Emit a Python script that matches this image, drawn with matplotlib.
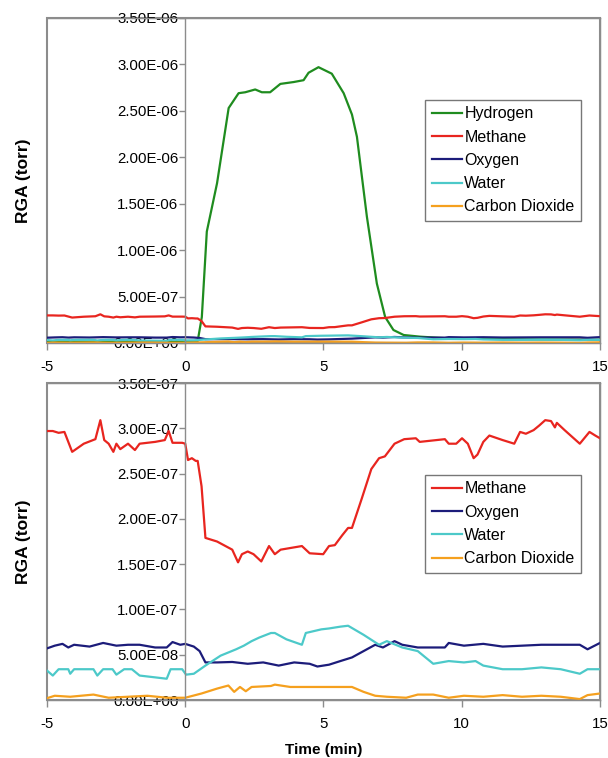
import numpy as np
import matplotlib
matplotlib.use('Agg')
import matplotlib.pyplot as plt
from matplotlib.ticker import FuncFormatter

plt.rcParams['font.family'] = ['Liberation Sans', 'DejaVu Sans']
plt.rcParams['axes.unicode_minus'] = False

# Hydrogen (torr)
t_h2 = [-5, -2, 0, 0.45, 0.6, 0.78, 1.15, 1.57, 1.93, 2.17, 2.53, 2.77, 3.07, 3.44, 3.92,
        4.28, 4.46, 4.82, 5.3, 5.73, 6.03, 6.21, 6.57, 6.93, 7.23, 7.53, 7.9, 8.5, 9.5, 12, 15]
h2 = [0.015, 0.015, 0.015, 0.02, 0.28, 1.2, 1.72, 2.53, 2.69, 2.70, 2.73, 2.70, 2.70, 2.79, 2.81,
      2.83, 2.91, 2.97, 2.90, 2.69, 2.46, 2.22, 1.36, 0.64, 0.28, 0.14, 0.086, 0.068, 0.05, 0.04, 0.035]

# Methane (1e-7 torr)
t_ch4 = [-5, -4.79, -4.58, -4.37, -4.09, -3.67, -3.25, -3.07, -2.93, -2.77, -2.6, -2.49, -2.35,
         -2.07, -1.82, -1.65, -1.09, -0.74, -0.6, -0.46, -0.11, 0, 0.1, 0.24, 0.38, 0.45, 0.59,
         0.73, 1.15, 1.7, 1.91, 2.05, 2.26, 2.47, 2.75, 3.03, 3.24, 3.45, 4.22, 4.5, 4.99, 5.2,
         5.41, 5.68, 5.89, 6.03, 6.38, 6.73, 7.01, 7.22, 7.57, 7.92, 8.34, 8.48, 9.39, 9.53,
         9.8, 10.01, 10.22, 10.43, 10.57, 10.78, 11.0, 11.48, 11.9, 12.11, 12.32, 12.6, 12.8,
         13.02, 13.23, 13.37, 13.44, 13.72, 14.27, 14.62, 14.83, 15]
ch4 = [2.97, 2.97, 2.95, 2.96, 2.74, 2.83, 2.88, 3.09, 2.87, 2.83, 2.74, 2.83, 2.77,
       2.83, 2.76, 2.83, 2.85, 2.87, 2.97, 2.84, 2.84, 2.83, 2.65, 2.67, 2.64, 2.64, 2.36,
       1.79, 1.75, 1.66, 1.52, 1.61, 1.64, 1.61, 1.53, 1.70, 1.61, 1.66, 1.70, 1.62, 1.61, 1.70,
       1.71, 1.82, 1.90, 1.90, 2.22, 2.55, 2.67, 2.69, 2.83, 2.88, 2.89, 2.85, 2.88, 2.83,
       2.83, 2.89, 2.83, 2.67, 2.71, 2.85, 2.92, 2.87, 2.83, 2.96, 2.94, 2.98, 3.03,
       3.09, 3.08, 3.01, 3.06, 2.98, 2.83, 2.96, 2.92, 2.89]

# Oxygen (1e-7 torr)
t_o2 = [-5, -4.72, -4.44, -4.23, -4.02, -3.46, -2.97, -2.49, -2.07, -1.65, -1.09, -0.67, -0.46,
        -0.18, 0, 0.31, 0.52, 0.73, 1.15, 1.7, 2.26, 2.82, 3.38, 3.94, 4.5, 4.78, 5.2, 5.61,
        6.03, 6.45, 6.87, 7.15, 7.57, 7.85, 8.41, 9.39, 9.53, 10.08, 10.78, 11.48, 12.18,
        12.88, 13.58, 14.27, 14.55, 15]
o2 = [0.57, 0.60, 0.62, 0.58, 0.61, 0.59, 0.63, 0.60, 0.61, 0.61, 0.58, 0.58, 0.64,
      0.61, 0.62, 0.59, 0.54, 0.415, 0.415, 0.42, 0.40, 0.415, 0.38, 0.415, 0.40, 0.37, 0.39, 0.43,
      0.47, 0.54, 0.61, 0.58, 0.65, 0.61, 0.58, 0.58, 0.63, 0.60, 0.62, 0.59, 0.60,
      0.61, 0.61, 0.61, 0.56, 0.63]

# Water (1e-7 torr)
t_h2o = [-5, -4.79, -4.58, -4.23, -4.16, -4.02, -3.32, -3.18, -2.97, -2.63, -2.49, -2.21,
         -1.93, -1.65, -1.09, -0.67, -0.53, -0.11, 0.03, 0.31, 0.73, 1.28, 1.84, 2.12, 2.4,
         2.68, 3.1, 3.24, 3.66, 4.22, 4.36, 4.64, 4.92, 5.2, 5.61, 5.89, 6.45, 7.01, 7.29,
         7.85, 8.41, 8.97, 9.53, 10.08, 10.5, 10.78, 11.48, 12.18, 12.88, 13.58, 14.27, 14.55, 15]
h2o = [0.325, 0.27, 0.34, 0.34, 0.29, 0.34, 0.34, 0.27, 0.34, 0.34, 0.28, 0.34,
       0.34, 0.27, 0.25, 0.235, 0.34, 0.34, 0.28, 0.29, 0.38, 0.49, 0.56, 0.60, 0.65,
       0.69, 0.74, 0.74, 0.67, 0.61, 0.74, 0.76, 0.78, 0.79, 0.81, 0.82, 0.72, 0.61, 0.65,
       0.58, 0.54, 0.40, 0.43, 0.415, 0.43, 0.38, 0.34, 0.34, 0.36, 0.34, 0.29, 0.34, 0.34]

# Carbon dioxide (1e-7 torr)
t_co2 = [-5, -4.72, -4.16, -3.32, -2.77, -2.07, -1.37, -0.67, 0, 0.59, 1.15, 1.56, 1.77,
         1.98, 2.19, 2.4, 3.1, 3.24, 3.8, 4.5, 5.2, 6.03, 6.45, 6.87, 7.29, 7.99, 8.41,
         8.97, 9.53, 10.08, 10.78, 11.48, 12.18, 12.88, 13.58, 14.27, 14.55, 15]
co2 = [0.02, 0.047, 0.036, 0.06, 0.025, 0.036, 0.047, 0.025, 0.025, 0.072, 0.126, 0.16, 0.09,
       0.144, 0.097, 0.144, 0.155, 0.17, 0.144, 0.144, 0.144, 0.144, 0.09, 0.047, 0.036, 0.025, 0.06,
       0.06, 0.025, 0.047, 0.036, 0.054, 0.036, 0.047, 0.036, 0.01, 0.054, 0.072]

c_h2 = '#1f8c1f'
c_ch4 = '#e8251f'
c_o2 = '#1c1c7a'
c_h2o = '#4cc9c9'
c_co2 = '#f5a01e'
frame = '#8c8c8c'

fig = plt.figure(figsize=(6.08, 7.58), dpi=100)
ax1 = fig.add_axes([0.0773, 0.5475, 0.9095, 0.4288])
ax2 = fig.add_axes([0.0773, 0.0765, 0.9095, 0.4182])

def style(ax, ymax, step):
    ax.set_xlim(-5, 15)
    ax.set_ylim(0, ymax)
    ax.set_xticks([-5, 0, 5, 10, 15])
    ax.set_yticks(np.arange(0, ymax + step / 2, step))
    ax.yaxis.set_major_formatter(FuncFormatter(lambda v, p: f'{v:.2E}'))
    ax.spines['left'].set_position(('data', 0))
    for s in ax.spines.values():
        s.set_color(frame)
        s.set_linewidth(1)
    ax.patch.set_edgecolor(frame)
    ax.patch.set_linewidth(1.5)
    ax.tick_params(axis='y', direction='out', length=4, width=1, color=frame,
                   labelsize=10.8, pad=1)
    ax.tick_params(axis='x', direction='out', length=5, width=1, color=frame,
                   labelsize=10.8, pad=7)
    ax.set_ylabel('RGA (torr)', fontsize=12.5, fontweight='bold')
    ax.yaxis.set_label_coords(-0.029, 0.5)

ax1.plot(t_h2, np.array(h2) * 1e-6, color=c_h2, lw=1.6, label='Hydrogen')
ax1.plot(t_ch4, np.array(ch4) * 1e-7, color=c_ch4, lw=1.6, label='Methane')
ax1.plot(t_o2, np.array(o2) * 1e-7, color=c_o2, lw=1.6, label='Oxygen')
ax1.plot(t_h2o, np.array(h2o) * 1e-7, color=c_h2o, lw=1.6, label='Water')
ax1.plot(t_co2, np.array(co2) * 1e-7, color=c_co2, lw=1.6, label='Carbon Dioxide')
style(ax1, 3.5e-6, 5e-7)

ax2.plot(t_ch4, np.array(ch4) * 1e-7, color=c_ch4, lw=1.6, label='Methane')
ax2.plot(t_o2, np.array(o2) * 1e-7, color=c_o2, lw=1.6, label='Oxygen')
ax2.plot(t_h2o, np.array(h2o) * 1e-7, color=c_h2o, lw=1.6, label='Water')
ax2.plot(t_co2, np.array(co2) * 1e-7, color=c_co2, lw=1.6, label='Carbon Dioxide')
style(ax2, 3.5e-7, 5e-8)
ax2.set_xlabel('Time (min)', fontsize=11, fontweight='bold', labelpad=9)

for ax, anchor in [(ax1, (0.684, 0.748)), (ax2, (0.684, 0.71))]:
    leg = ax.legend(loc='upper left', bbox_to_anchor=anchor, fontsize=11.5,
                    frameon=True, fancybox=False, edgecolor='#555555',
                    handlelength=1.9, handletextpad=0.15, labelspacing=0.52,
                    borderpad=0.4, borderaxespad=0)
    leg.get_frame().set_linewidth(1)

fig.savefig('out.png', dpi=100)
